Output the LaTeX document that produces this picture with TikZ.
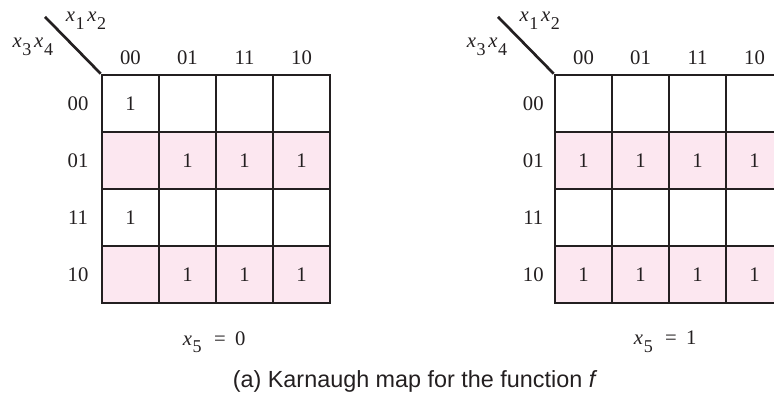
\documentclass[tikz,border=0pt]{standalone}
\usepackage{fontspec}
\setmainfont{Liberation Serif}
\setsansfont{Liberation Sans}
\usepackage{xcolor}
\definecolor{jet}{HTML}{231F20}
\definecolor{kmap-pink}{HTML}{FCE7F0}
\newcommand{\xv}[1]{\textit{x}\kern0.5pt\raisebox{-0.38em}{\fontsize{13.5}{15}\selectfont #1}}
\tikzset{
  cell/.style={draw=jet, line width=2pt, minimum size=1.5cm, inner sep=0pt},
  pinkcell/.style={cell, fill=kmap-pink},
}

\begin{document}
\begin{tikzpicture}[every node/.style={font=\fontsize{15.5}{18}\selectfont, text=jet}]
  \useasboundingbox (-2.684, 1.974) rectangle (17.684, -8.395);

  % map for x5 = 0
  \foreach \c/\v in {0/1, 1/{}, 2/{}, 3/{}}
    \node[cell] (L0\c) at (1.5*\c+0.75, -0.75) {\v};
  \foreach \c/\v in {0/{}, 1/1, 2/1, 3/1}
    \node[pinkcell] (L1\c) at (1.5*\c+0.75, -2.25) {\v};
  \foreach \c/\v in {0/1, 1/{}, 2/{}, 3/{}}
    \node[cell] (L2\c) at (1.5*\c+0.75, -3.75) {\v};
  \foreach \c/\v in {0/{}, 1/1, 2/1, 3/1}
    \node[pinkcell] (L3\c) at (1.5*\c+0.75, -5.25) {\v};
  \foreach \c/\g in {0/00, 1/01, 2/11, 3/10} {
    \node (Lcol\c) at (1.5*\c+0.75, 0.45) {\g};
    \node (Lrow\c) at (-0.63, -1.5*\c-0.75) {\g};
  }
  \coordinate (Ltip) at (-1.5, 1.53);
  \draw[line width=2pt, color=jet] (L00.north west) -- (Ltip);
  \node (Lx12) at (-0.42, 1.42) {\xv{1}\kern2pt\xv{2}};
  \node (Lx34) at (-1.82, 0.74) {\xv{3}\kern2pt\xv{4}};
  \node (Lx5) at (2.95, -7.03) {\xv{5}\hspace{0.6em}=\hspace{0.45em}0};

  % map for x5 = 1
  \begin{scope}[xshift=11.921cm]
    \foreach \c in {0,...,3} {
      \node[cell] (R0\c) at (1.5*\c+0.75, -0.75) {};
      \node[pinkcell] (R1\c) at (1.5*\c+0.75, -2.25) {1};
      \node[cell] (R2\c) at (1.5*\c+0.75, -3.75) {};
      \node[pinkcell] (R3\c) at (1.5*\c+0.75, -5.25) {1};
    }
    \foreach \c/\g in {0/00, 1/01, 2/11, 3/10} {
      \node (Rcol\c) at (1.5*\c+0.75, 0.45) {\g};
      \node (Rrow\c) at (-0.57, -1.5*\c-0.75) {\g};
    }
    \coordinate (Rtip) at (-1.5, 1.53);
    \draw[line width=2pt, color=jet] (R00.north west) -- (Rtip);
    \node (Rx12) at (-0.4, 1.42) {\xv{1}\kern2pt\xv{2}};
    \node (Rx34) at (-1.79, 0.74) {\xv{3}\kern2pt\xv{4}};
    \node (Rx5) at (2.9, -7.03) {\xv{5}\hspace{0.6em}=\hspace{0.45em}1};
  \end{scope}

  \node[font=\sffamily\fontsize{17.5}{20}\selectfont] (caption) at (8.24, -8.06)
    {(a) Karnaugh map for the function \textit{f}};
\end{tikzpicture}
\end{document}
